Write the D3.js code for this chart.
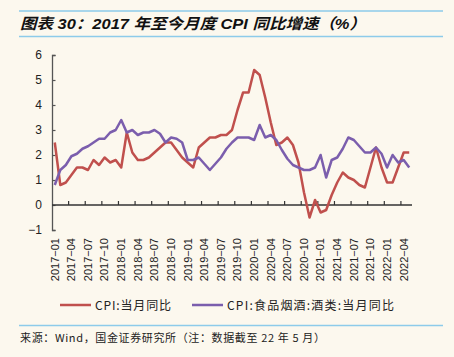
<!DOCTYPE html>
<html><head><meta charset="utf-8">
<script src="https://cdn.jsdelivr.net/npm/d3@7/dist/d3.min.js"></script>
<style>
html,body{margin:0;padding:0;background:#FCF8EE;}
svg{display:block;}
</style></head>
<body><svg id="c" width="454" height="357"></svg>
<script>
const months = [];
for (let y = 2017; y <= 2022; y++) for (let m = 1; m <= 12; m++) { if (y === 2022 && m > 5) break; months.push(y + "-" + String(m).padStart(2, "0")); }

const cpi = [2.5,0.8,0.9,1.2,1.5,1.5,1.4,1.8,1.6,1.9,1.7,1.8,
  1.5,2.9,2.1,1.8,1.8,1.9,2.1,2.3,2.5,2.5,2.2,1.9,
  1.7,1.5,2.3,2.5,2.7,2.7,2.8,2.8,3.0,3.8,4.5,4.5,
  5.4,5.2,4.3,3.3,2.4,2.5,2.7,2.4,1.7,0.5,-0.5,0.2,
  -0.3,-0.2,0.4,0.9,1.3,1.1,1.0,0.8,0.7,1.5,2.3,1.5,
  0.9,0.9,1.5,2.1,2.1];
const liquor = [0.8,1.4,1.6,1.95,2.05,2.25,2.35,2.5,2.65,2.65,2.9,3.0,
  3.4,2.9,3.0,2.8,2.9,2.9,3.0,2.85,2.5,2.7,2.65,2.5,
  1.8,1.8,1.9,1.65,1.4,1.65,1.9,2.25,2.5,2.7,2.7,2.7,
  2.6,3.2,2.7,2.8,2.6,2.2,1.85,1.6,1.5,1.4,1.4,1.5,
  2.0,1.1,1.8,1.9,2.25,2.7,2.6,2.35,2.1,2.1,2.3,2.05,
  1.5,2.0,1.7,1.8,1.5];
const yTicks = [-1,0,1,2,3,4,5,6];
const seriesNames = ["CPI:当月同比", "CPI:食品烟酒:酒类:当月同比"];
const colors = ["#C0504D", "#7B5EAD"];
const titleText = "图表 30：2017 年至今月度 CPI 同比增速（%）";
const sourceText = "来源：Wind，国金证券研究所（注：数据截至 22 年 5 月）";

const svg = d3.select("#c");
const x = d3.scaleBand().domain(months).range([52, 412]).padding(0);
const bw = x.bandwidth();
const cx = m => x(m) + bw / 2;
const y = d3.scaleLinear().domain([-1, 6]).range([230, 55]);

// title
svg.append("line").attr("x1",19).attr("x2",443).attr("y1",11).attr("y2",11).attr("stroke","#8DCBEA").attr("stroke-width",1.5);
svg.append("line").attr("x1",19).attr("x2",443).attr("y1",36.5).attr("y2",36.5).attr("stroke","#8DCBEA").attr("stroke-width",1.5);
svg.append("text").attr("x",20).attr("y",29).text(titleText)
  .attr("font-family","'Liberation Sans', 'Noto Sans CJK SC', sans-serif").attr("font-size",15).attr("font-weight","bold")
  .attr("font-style","italic").attr("fill","#111").attr("textLength",346).attr("lengthAdjust","spacingAndGlyphs");

// y axis
const yAxis = svg.append("g").attr("transform","translate(52,0)")
  .call(d3.axisLeft(y).tickValues(yTicks).tickSize(-3.5).tickPadding(10)
    .tickFormat(d => d < 0 ? "\u2212" + Math.abs(d) : d));
yAxis.select(".domain").attr("stroke","#555").attr("stroke-width",1.3);
yAxis.selectAll(".tick line").attr("stroke","#555").attr("stroke-width",1.2);
yAxis.selectAll("text").attr("font-family","'Liberation Sans', Arial, sans-serif").attr("font-size",12).attr("fill","#222");

// x axis at zero
const y0 = y(0);
svg.append("line").attr("x1",52).attr("x2",412).attr("y1",y0).attr("y2",y0).attr("stroke","#333").attr("stroke-width",1.5);
const tickIdx = d3.range(3, months.length, 3);
svg.append("g").selectAll("line").data(tickIdx).join("line")
  .attr("x1", i => x(months[i])).attr("x2", i => x(months[i]))
  .attr("y1", y0).attr("y2", y0 - 4).attr("stroke","#333").attr("stroke-width",1.2);
const labIdx = d3.range(0, months.length, 3);
svg.append("g").selectAll("text").data(labIdx).join("text")
  .attr("transform", i => `translate(${cx(months[i])},238) rotate(-90)`)
  .attr("dy","0.35em").attr("text-anchor","end")
  .attr("font-family","'Liberation Sans', Arial, sans-serif").attr("font-size",11).attr("fill","#222")
  .text(i => months[i].replace("-", "\u2212"));

// lines
const line = d3.line().x((d,i) => cx(months[i])).y(d => y(d));
[cpi, liquor].forEach((s, k) => {
  svg.append("path").datum(s).attr("d", line).attr("fill","none")
    .attr("stroke", colors[k]).attr("stroke-width", 2.5).attr("stroke-linejoin","round");
});

// legend
const leg = [{x1:60,x2:91,tx:95,len:76},{x1:192,x2:223,tx:227,len:167}];
leg.forEach((l,k) => {
  svg.append("line").attr("x1",l.x1).attr("x2",l.x2).attr("y1",305).attr("y2",305)
    .attr("stroke",colors[k]).attr("stroke-width",2.5);
  svg.append("text").attr("x",l.tx).attr("y",309.5).text(seriesNames[k])
    .attr("font-family","'Noto Sans CJK SC', sans-serif").attr("font-size",12).attr("fill","#222")
    .attr("textLength",l.len).attr("lengthAdjust","spacing");
});

// source
svg.append("line").attr("x1",19).attr("x2",443).attr("y1",325.5).attr("y2",325.5).attr("stroke","#8DCBEA").attr("stroke-width",1.5);
svg.append("text").attr("x",20).attr("y",342).text(sourceText)
  .attr("font-family","'Noto Sans CJK SC', sans-serif").attr("font-size",11).attr("fill","#222")
  .attr("textLength",305).attr("lengthAdjust","spacing");
</script></body></html>
